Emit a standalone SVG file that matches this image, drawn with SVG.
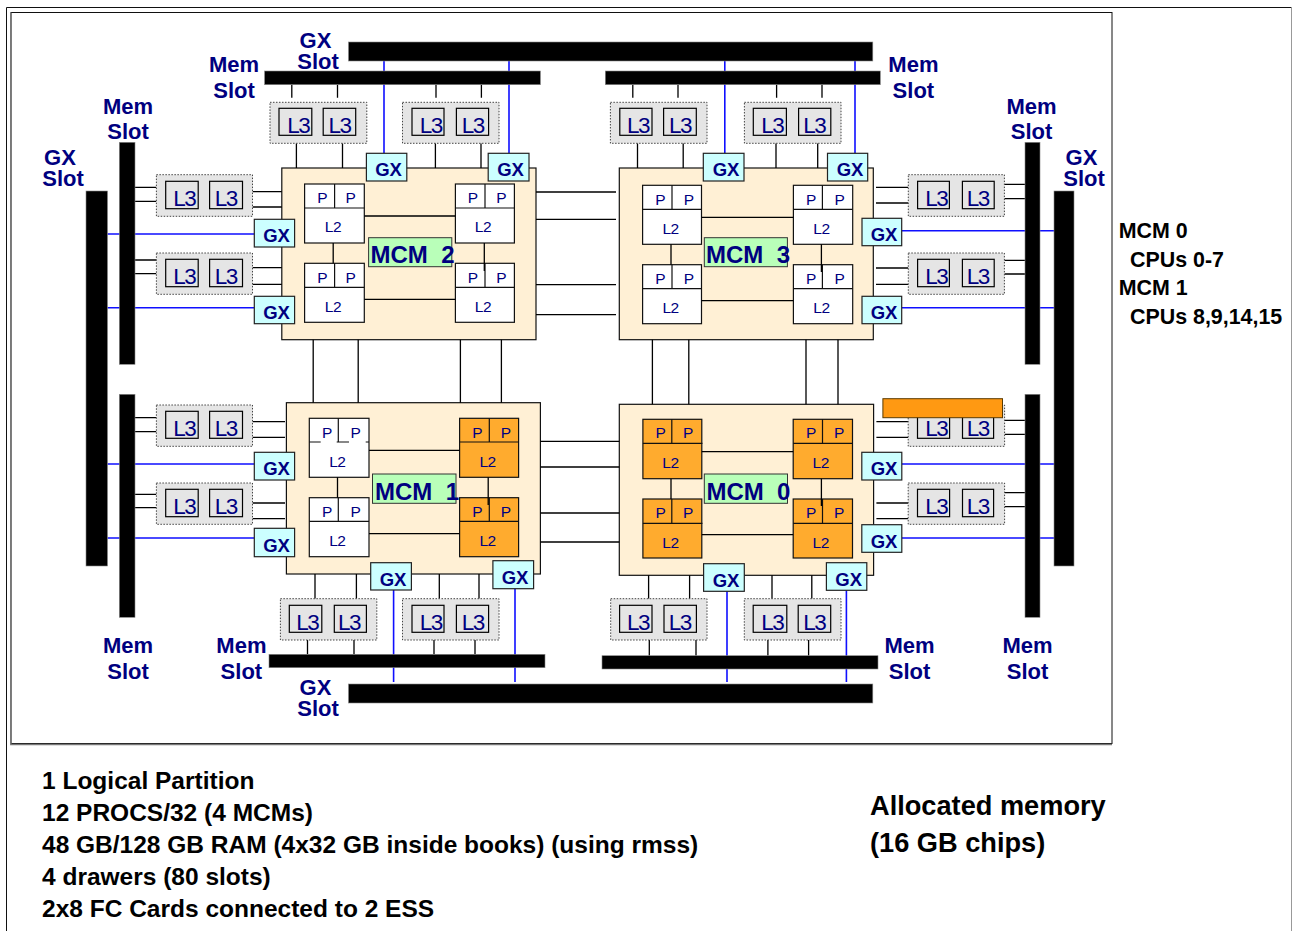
<svg xmlns="http://www.w3.org/2000/svg" width="1292" height="931" viewBox="0 0 1292 931">
<style>
text{font-family:"Liberation Sans",Arial,sans-serif}
.frame{fill:none;stroke:#111;stroke-width:1}
.bar{fill:#000;stroke:#888;stroke-width:.6}
.mcm{fill:#fff0d5;stroke:#111;stroke-width:1.2}
.tag{fill:#b9ffb9;stroke:#333;stroke-width:1}
.tagt{font-size:24px;font-weight:bold;fill:#000080;white-space:pre}
.chip{fill:#fff;stroke:#111;stroke-width:1.2}
.on{fill:#ffab2e}
.div{stroke:#111;stroke-width:1.2;fill:none}
.p{font-size:15.5px;fill:#000080;text-anchor:middle}
.l2{font-size:15.5px;fill:#000080;text-anchor:middle;letter-spacing:-.5px}
.grp{fill:#e5e5e5;stroke:#444;stroke-width:1;stroke-dasharray:1.5 1.5}
.l3{fill:#e5e5e5;stroke:#000;stroke-width:1.2}
.l3t{font-size:22.5px;fill:#000080;letter-spacing:-1.5px;transform:translateX(-.8px)}
.gx{fill:#ccffff;stroke:#222;stroke-width:1.2}
.gxt{font-size:18.5px;font-weight:bold;fill:#000080;text-anchor:middle;transform:translateY(.6px)}
.lab{font-size:22px;font-weight:bold;fill:#000080;text-anchor:middle}
.side{font-size:21.4px;font-weight:bold;fill:#000}
.note{font-size:24.5px;font-weight:bold;fill:#000}
.alloc{font-size:27.2px;font-weight:bold;fill:#000}
.k{stroke:#000;stroke-width:1.3;fill:none}
.b{stroke:#0f0fff;stroke-width:1.6;fill:none}
</style>

<g id="page-frame">
<path d="M6.5 931V7.5H1291.5" fill="none" stroke="#111" stroke-width="1"/>
<path d="M1291.5 7.5V931" fill="none" stroke="#999" stroke-width="1"/>
<rect class="frame" x="11" y="12.5" width="1101" height="731"/>
<path d="M10.8 12.5V744.5H1112" fill="none" stroke="#777" stroke-width="1.4"/>
</g>

<g id="mcm2">
<rect class="mcm" x="281.8" y="168" width="254.2" height="171.7"/>
<g transform="translate(304.6 184)"><rect class="chip" width="59.7" height="59"/><path class="div" d="M0 24H59.7M30 0V24"/><text class="p" x="17.8" y="19.3">P</text><text class="p" x="46.2" y="19.3">P</text><text class="l2" x="28.3" y="48.3">L2</text></g>
<g transform="translate(455.4 184)"><rect class="chip" width="59" height="59"/><path class="div" d="M0 24H59M29.6 0V24"/><text class="p" x="17.6" y="19.3">P</text><text class="p" x="46" y="19.3">P</text><text class="l2" x="27.6" y="48.3">L2</text></g>
<g transform="translate(304.6 263.3)"><rect class="chip" width="59.7" height="59"/><path class="div" d="M0 24H59.7M30 0V24"/><text class="p" x="17.8" y="19.3">P</text><text class="p" x="46.2" y="19.3">P</text><text class="l2" x="28.3" y="48.3">L2</text></g>
<g transform="translate(455.4 263.3)"><rect class="chip" width="59" height="59"/><path class="div" d="M0 24H59M29.6 0V24"/><text class="p" x="17.6" y="19.3">P</text><text class="p" x="46" y="19.3">P</text><text class="l2" x="27.6" y="48.3">L2</text></g>
<rect class="tag" x="368.6" y="237.7" width="83.2" height="29"/>
<text class="tagt" x="370.5" y="263.3" xml:space="preserve">MCM  2</text>
</g>

<g id="mcm3">
<rect class="mcm" x="619.3" y="168" width="254" height="171.7"/>
<g transform="translate(642.6 185.3)"><rect class="chip" width="58.9" height="59"/><path class="div" d="M0 24H58.9M29.4 0V24"/><text class="p" x="17.8" y="19.3">P</text><text class="p" x="46.3" y="19.3">P</text><text class="l2" x="28" y="48.3">L2</text></g>
<g transform="translate(793.4 185.3)"><rect class="chip" width="59.3" height="59"/><path class="div" d="M0 24H59.3M29 0V24"/><text class="p" x="17.8" y="19.3">P</text><text class="p" x="46.3" y="19.3">P</text><text class="l2" x="28" y="48.3">L2</text></g>
<g transform="translate(642.6 264.7)"><rect class="chip" width="58.9" height="59"/><path class="div" d="M0 24H58.9M29.4 0V24"/><text class="p" x="17.8" y="19.3">P</text><text class="p" x="46.3" y="19.3">P</text><text class="l2" x="28" y="48.3">L2</text></g>
<g transform="translate(793.4 264.7)"><rect class="chip" width="59.3" height="59"/><path class="div" d="M0 24H59.3M29 0V24"/><text class="p" x="17.8" y="19.3">P</text><text class="p" x="46.3" y="19.3">P</text><text class="l2" x="28" y="48.3">L2</text></g>
<rect class="tag" x="704.3" y="237.7" width="83.1" height="29"/>
<text class="tagt" x="706" y="263.3" xml:space="preserve">MCM  3</text>
</g>

<g id="mcm1">
<rect class="mcm" x="286.4" y="402.7" width="254" height="171.3"/>
<g transform="translate(309.3 418.3)"><rect class="chip" width="59.7" height="59"/><path class="div" d="M0 23.7H11.4M27.4 23.7H39.7M56.4 23.7H59.7M29 0V23.7"/><text class="p" x="17.8" y="19.3">P</text><text class="p" x="46.4" y="19.3">P</text><text class="l2" x="28" y="48.3">L2</text></g>
<g transform="translate(459.6 418.3)"><rect class="chip on" width="59" height="59"/><path class="div" d="M0 23.7H59M29.7 0V23.7"/><text class="p" x="17.8" y="19.3">P</text><text class="p" x="46.4" y="19.3">P</text><text class="l2" x="28" y="48.3">L2</text></g>
<g transform="translate(309.3 497.7)"><rect class="chip" width="59.7" height="59"/><path class="div" d="M0 23.7H59.7M29 0V23.7"/><text class="p" x="17.8" y="19.3">P</text><text class="p" x="46.4" y="19.3">P</text><text class="l2" x="28" y="48.3">L2</text></g>
<g transform="translate(459.6 497.7)"><rect class="chip on" width="59" height="59"/><path class="div" d="M0 23.7H59M29.7 0V23.7"/><text class="p" x="17.8" y="19.3">P</text><text class="p" x="46.4" y="19.3">P</text><text class="l2" x="28" y="48.3">L2</text></g>
<rect class="tag" x="372.5" y="474" width="83.5" height="29.3"/>
<text class="tagt" x="375" y="500" xml:space="preserve">MCM  1</text>
</g>

<g id="mcm0">
<rect class="mcm" x="619.3" y="404.3" width="254.3" height="171"/>
<g transform="translate(642.9 419.3)"><rect class="chip on" width="58.9" height="59.4"/><path class="div" d="M0 24H59.5M28.9 0V24"/><text class="p" x="17.8" y="18.7">P</text><text class="p" x="45.4" y="18.7">P</text><text class="l2" x="27.5" y="48.8">L2</text></g>
<g transform="translate(793.2 419.3)"><rect class="chip on" width="59.3" height="59.4"/><path class="div" d="M0 24H59.3M29.3 0V24"/><text class="p" x="18" y="18.7">P</text><text class="p" x="46" y="18.7">P</text><text class="l2" x="27.5" y="48.8">L2</text></g>
<g transform="translate(642.9 499)"><rect class="chip on" width="58.9" height="59"/><path class="div" d="M0 24.3H59.5M28.9 0V24.3"/><text class="p" x="17.8" y="18.7">P</text><text class="p" x="45.4" y="18.7">P</text><text class="l2" x="27.5" y="48.8">L2</text></g>
<g transform="translate(793.2 499)"><rect class="chip on" width="59.3" height="59"/><path class="div" d="M0 24.3H59.3M29.3 0V24.3"/><text class="p" x="18" y="18.7">P</text><text class="p" x="46" y="18.7">P</text><text class="l2" x="27.5" y="48.8">L2</text></g>
<rect class="tag" x="704.3" y="474" width="83.2" height="29.3"/>
<text class="tagt" x="706.4" y="500" xml:space="preserve">MCM  0</text>
</g>

<g id="connectors">
<path class="b" d="M384 61V153.3M509 61V153.3M724.8 61V153.3M855 61V153.3"/>
<path class="b" d="M107.5 234H254.3M107.5 307.7H254.3M107.5 464H254.3M107.5 538H254.3"/>
<path class="b" d="M901.7 230.7H1054M901.7 307.7H1054M901.8 464H1054M901.8 538H1054"/>
<path class="b" d="M393.6 590V682M515 588.7V682M727 591.3V682M846.4 590.3V682"/>
<path class="k" d="M291.8 84.7V97.7M337.5 84.7V97.7M436 84.7V97.7M481.4 84.7V97.7M632.8 84.7V97.7M678 84.7V97.7M776.6 84.7V97.7M822 84.7V97.7"/>
<path class="k" d="M296.4 143.3V168M342.5 143.3V168M435.4 143.3V168M481 143.3V168M637.5 143.3V168M683.2 143.3V168M776 143.3V168M817.7 143.3V168"/>
<path class="k" d="M135 187.3H156.4M135 201.3H156.4M135 260H156.4M135 273.7H156.4M135 417.7H156.4M135 431.7H156.4M135 494.3H156.4M135 507.7H156.4"/>
<path class="k" d="M252.5 191.7H281.8M252.5 207H281.8M252.5 267.7H281.8M252.5 284.3H281.8M252.5 421.7H285M252.5 437.3H285M252.5 503H285M252.5 518.7H285"/>
<path class="k" d="M876 187.3H908.3M876 203H908.3M876 268H908.3M876 284.3H908.3M876.4 421.7H908.2M876.4 437.3H908.2M876.4 503H908.2M876.4 518.7H908.2"/>
<path class="k" d="M1004.4 184.3H1025M1004.4 198.7H1025M1004.4 260.3H1025M1004.4 274H1025M1004.6 420.3H1025M1004.6 434.3H1025M1004.6 492.7H1025M1004.6 506.7H1025"/>
<path class="k" d="M315 574V598.7M356.4 574V598.7M439.3 574V598.7M479 574V598.7M648.6 575.3V598.7M689.6 575.3V598.7M772 575.3V598.7M811.8 575.3V598.7"/>
<path class="k" d="M307.5 640V654.3M354 640V654.3M434 640V654.3M475 640V654.3M649.3 640V655.7M696 640V655.7M767.9 640V655.7M808.6 640V655.7"/>
<path class="k" d="M536 192H616M536 219.3H616M536 284.7H616M536 314.7H616M540.4 441.3H619.3M540.4 467H619.3M540.4 513H619.3M540.4 542H619.3"/>
<path class="k" d="M313.2 339.7V402.7M358.2 339.7V402.7M460.4 339.7V402.7M501.4 339.7V402.7M652.4 339.7V404.3M688.8 339.7V404.3M806 339.7V404.3M838 339.7V404.3"/>
<path class="k" d="M364.3 216H455.4M364.3 299.3H455.4M333.2 243V263.3M484.3 243V271"/>
<path class="k" d="M701.5 217.3H793.4M701.5 300.7H793.4M671 244.3V264.7M821.4 244.3V272"/>
<path class="k" d="M369 450.3H459.6M369 533.7H459.6M337.5 477.3V497.7M488.2 477.3V505"/>
<path class="k" d="M701.8 451.7H793.2M701.8 534.7H793.2M671 478.7V499M821.4 478.7V506"/>
</g>

<g id="bar-gx-top"><rect class="bar" x="348.5" y="42" width="524.3" height="19"/></g>
<g id="bar-mem-top-left"><rect class="bar" x="264.6" y="71" width="275.8" height="13.7"/></g>
<g id="bar-mem-top-right"><rect class="bar" x="605.3" y="71" width="275" height="13.7"/></g>
<g id="bar-gx-left"><rect class="bar" x="86" y="191" width="21.5" height="375"/></g>
<g id="bar-mem-left-upper"><rect class="bar" x="119.3" y="142.3" width="15.7" height="222"/></g>
<g id="bar-mem-left-lower"><rect class="bar" x="119.3" y="394.3" width="15.7" height="223"/></g>
<g id="bar-mem-right-upper"><rect class="bar" x="1025" y="142.3" width="15" height="222"/></g>
<g id="bar-mem-right-lower"><rect class="bar" x="1025" y="394.3" width="15" height="223"/></g>
<g id="bar-gx-right"><rect class="bar" x="1054" y="191" width="20" height="375"/></g>
<g id="bar-mem-bottom-left"><rect class="bar" x="269" y="654.3" width="276" height="13.4"/></g>
<g id="bar-mem-bottom-right"><rect class="bar" x="602" y="655.7" width="276" height="13.3"/></g>
<g id="bar-gx-bottom"><rect class="bar" x="348.5" y="684" width="524.3" height="19"/></g>

<g id="l3-top-1"><rect class="grp" x="270" y="102.3" width="96.8" height="41"/><rect class="l3" x="279" y="108.3" width="32.8" height="27"/><rect class="l3" x="323.2" y="108.3" width="32.5" height="27"/><text class="l3t" x="288" y="133.3">L3</text><text class="l3t" x="329.3" y="133.3">L3</text></g>
<g id="l3-top-2"><rect class="grp" x="402.5" y="102.3" width="96.5" height="41"/><rect class="l3" x="412" y="108.3" width="32" height="27"/><rect class="l3" x="456.4" y="108.3" width="32.2" height="27"/><text class="l3t" x="420.5" y="133.3">L3</text><text class="l3t" x="462.5" y="133.3">L3</text></g>
<g id="l3-top-3"><rect class="grp" x="610.4" y="102.3" width="96.6" height="41"/><rect class="l3" x="619.8" y="108.3" width="32.2" height="27"/><rect class="l3" x="663.6" y="108.3" width="32.7" height="27"/><text class="l3t" x="627.7" y="133.3">L3</text><text class="l3t" x="669.7" y="133.3">L3</text></g>
<g id="l3-top-4"><rect class="grp" x="744.4" y="102.3" width="96.6" height="41"/><rect class="l3" x="753.3" y="108.3" width="33.1" height="27"/><rect class="l3" x="798.6" y="108.3" width="32.2" height="27"/><text class="l3t" x="762" y="133.3">L3</text><text class="l3t" x="804" y="133.3">L3</text></g>

<g id="l3-left-1"><rect class="grp" x="156.4" y="174.7" width="96.1" height="41.6"/><rect class="l3" x="165.7" y="181.3" width="32.5" height="27.4"/><rect class="l3" x="209.6" y="181.3" width="32.9" height="27.4"/><text class="l3t" x="174" y="206">L3</text><text class="l3t" x="215.5" y="206">L3</text></g>
<g id="l3-left-2"><rect class="grp" x="156.4" y="253" width="96.1" height="41.3"/><rect class="l3" x="165.7" y="259.3" width="32.5" height="27.4"/><rect class="l3" x="209.6" y="259.3" width="32.9" height="27.4"/><text class="l3t" x="174" y="284">L3</text><text class="l3t" x="215.5" y="284">L3</text></g>
<g id="l3-left-3"><rect class="grp" x="156.4" y="405" width="96.1" height="41.3"/><rect class="l3" x="165.7" y="411.3" width="32.5" height="27"/><rect class="l3" x="209.6" y="411.3" width="32.9" height="27"/><text class="l3t" x="174" y="436">L3</text><text class="l3t" x="215.5" y="436">L3</text></g>
<g id="l3-left-4"><rect class="grp" x="156.4" y="483" width="96.1" height="41.3"/><rect class="l3" x="165.7" y="489.3" width="32.5" height="27.4"/><rect class="l3" x="209.6" y="489.3" width="32.9" height="27.4"/><text class="l3t" x="174" y="514">L3</text><text class="l3t" x="215.5" y="514">L3</text></g>

<g id="l3-right-1"><rect class="grp" x="908.3" y="174.7" width="96.1" height="41.6"/><rect class="l3" x="917.6" y="181.3" width="31.8" height="27.4"/><rect class="l3" x="962.4" y="181.3" width="31.8" height="27.4"/><text class="l3t" x="926" y="206">L3</text><text class="l3t" x="967.5" y="206">L3</text></g>
<g id="l3-right-2"><rect class="grp" x="908.3" y="253" width="96.1" height="41.3"/><rect class="l3" x="917.6" y="259.3" width="31.8" height="27.4"/><rect class="l3" x="962.4" y="259.3" width="31.8" height="27.4"/><text class="l3t" x="926" y="284">L3</text><text class="l3t" x="967.5" y="284">L3</text></g>
<g id="l3-right-3"><rect class="grp" x="908.2" y="405" width="96.4" height="41.3"/><rect class="l3" x="917.5" y="411.3" width="32.1" height="27"/><rect class="l3" x="962.5" y="411.3" width="31.1" height="27"/><text class="l3t" x="926" y="436">L3</text><text class="l3t" x="967.5" y="436">L3</text></g>
<g id="l3-right-4"><rect class="grp" x="908.2" y="483" width="96.4" height="41.3"/><rect class="l3" x="917.5" y="489.3" width="32.1" height="27.4"/><rect class="l3" x="962.5" y="489.3" width="31.1" height="27.4"/><text class="l3t" x="926" y="514">L3</text><text class="l3t" x="967.5" y="514">L3</text></g>

<g id="l3-bottom-1"><rect class="grp" x="280.4" y="598.7" width="96.4" height="41.3"/><rect class="l3" x="289.3" y="605.3" width="32.5" height="27"/><rect class="l3" x="334.3" y="605.3" width="32.1" height="27"/><text class="l3t" x="297" y="630.3">L3</text><text class="l3t" x="338.7" y="630.3">L3</text></g>
<g id="l3-bottom-2"><rect class="grp" x="402.5" y="598.7" width="96.5" height="41.3"/><rect class="l3" x="412" y="605.3" width="32" height="27"/><rect class="l3" x="456.4" y="605.3" width="32.2" height="27"/><text class="l3t" x="420.5" y="630.3">L3</text><text class="l3t" x="462.5" y="630.3">L3</text></g>
<g id="l3-bottom-3"><rect class="grp" x="610.7" y="598.7" width="96.3" height="41.3"/><rect class="l3" x="619.6" y="605.3" width="32.4" height="27"/><rect class="l3" x="664" y="605.3" width="32.4" height="27"/><text class="l3t" x="627.7" y="630.3">L3</text><text class="l3t" x="669.5" y="630.3">L3</text></g>
<g id="l3-bottom-4"><rect class="grp" x="744.3" y="598.7" width="96.7" height="41.3"/><rect class="l3" x="753.2" y="605.3" width="33.6" height="27"/><rect class="l3" x="798.2" y="605.3" width="32.5" height="27"/><text class="l3t" x="762" y="630.3">L3</text><text class="l3t" x="804" y="630.3">L3</text></g>

<g id="orange-block"><rect x="882.9" y="398.7" width="119.6" height="19" fill="#ff9912" stroke="#5a3a00" stroke-width="1"/></g>

<g id="gx-2a"><rect class="gx" x="366.4" y="153.3" width="40.4" height="27.7"/><text class="gxt" x="388.5" y="175.7">GX</text></g>
<g id="gx-2b"><rect class="gx" x="488.2" y="153.3" width="40.8" height="27.7"/><text class="gxt" x="510.5" y="175.7">GX</text></g>
<g id="gx-2c"><rect class="gx" x="254.3" y="219.3" width="40.3" height="27.7"/><text class="gxt" x="276.5" y="241.7">GX</text></g>
<g id="gx-2d"><rect class="gx" x="254.3" y="296.3" width="40.3" height="27.4"/><text class="gxt" x="276.5" y="318.4">GX</text></g>
<g id="gx-3a"><rect class="gx" x="703.3" y="153.3" width="40.7" height="27.7"/><text class="gxt" x="726" y="175.7">GX</text></g>
<g id="gx-3b"><rect class="gx" x="827.5" y="153.3" width="40.2" height="27.7"/><text class="gxt" x="850" y="175.7">GX</text></g>
<g id="gx-3c"><rect class="gx" x="862" y="218.3" width="39.7" height="27.4"/><text class="gxt" x="884" y="240.5">GX</text></g>
<g id="gx-3d"><rect class="gx" x="862" y="296.3" width="39.7" height="27.4"/><text class="gxt" x="884" y="318.4">GX</text></g>
<g id="gx-1a"><rect class="gx" x="254.3" y="452.3" width="40.3" height="27.7"/><text class="gxt" x="276.5" y="474.7">GX</text></g>
<g id="gx-1b"><rect class="gx" x="254.3" y="528.3" width="40.3" height="28.4"/><text class="gxt" x="276.5" y="551.3">GX</text></g>
<g id="gx-1c"><rect class="gx" x="370.7" y="562.7" width="40.7" height="27.3"/><text class="gxt" x="393" y="585">GX</text></g>
<g id="gx-1d"><rect class="gx" x="492.9" y="560.7" width="40.7" height="28"/><text class="gxt" x="515" y="583">GX</text></g>
<g id="gx-0a"><rect class="gx" x="861.8" y="452.3" width="40" height="27.7"/><text class="gxt" x="884" y="474.7">GX</text></g>
<g id="gx-0b"><rect class="gx" x="861.8" y="524.7" width="40" height="27.6"/><text class="gxt" x="884" y="547">GX</text></g>
<g id="gx-0c"><rect class="gx" x="703.6" y="563.7" width="40.7" height="27.6"/><text class="gxt" x="726" y="586">GX</text></g>
<g id="gx-0d"><rect class="gx" x="826.4" y="562.7" width="40.4" height="27.6"/><text class="gxt" x="848.7" y="585">GX</text></g>

<g id="labels">
<text class="lab" x="234" y="71.7">Mem</text><text class="lab" x="234" y="97.7">Slot</text>
<text class="lab" x="315.5" y="48.2">GX</text><text class="lab" x="318" y="69">Slot</text>
<text class="lab" x="128" y="114">Mem</text><text class="lab" x="128" y="139">Slot</text>
<text class="lab" x="60" y="165.2">GX</text><text class="lab" x="63" y="186">Slot</text>
<text class="lab" x="913.4" y="71.7">Mem</text><text class="lab" x="913.4" y="97.7">Slot</text>
<text class="lab" x="1031.5" y="114">Mem</text><text class="lab" x="1031.5" y="139">Slot</text>
<text class="lab" x="1081.5" y="165.2">GX</text><text class="lab" x="1084" y="186">Slot</text>
<text class="lab" x="128" y="653.3">Mem</text><text class="lab" x="128" y="679">Slot</text>
<text class="lab" x="241.4" y="653.3">Mem</text><text class="lab" x="241.4" y="679">Slot</text>
<text class="lab" x="315.5" y="695.2">GX</text><text class="lab" x="318" y="716">Slot</text>
<text class="lab" x="909.6" y="653.3">Mem</text><text class="lab" x="909.6" y="679">Slot</text>
<text class="lab" x="1027.5" y="653.3">Mem</text><text class="lab" x="1027.5" y="679">Slot</text>
</g>

<g id="cpu-notes">
<text class="side" x="1118.8" y="237.6">MCM 0</text>
<text class="side" x="1130" y="266.8">CPUs 0-7</text>
<text class="side" x="1118.8" y="294.7">MCM 1</text>
<text class="side" x="1130" y="323.6">CPUs 8,9,14,15</text>
</g>

<g id="summary">
<text class="note" x="42" y="789.3">1 Logical Partition</text>
<text class="note" x="42" y="821">12 PROCS/32 (4 MCMs)</text>
<text class="note" x="42" y="852.8">48 GB/128 GB RAM (4x32 GB inside books) (using rmss)</text>
<text class="note" x="42" y="885.3">4 drawers (80 slots)</text>
<text class="note" x="42" y="917.4">2x8 FC Cards connected to 2 ESS</text>
<text class="alloc" x="870" y="815">Allocated memory</text>
<text class="alloc" x="870" y="852">(16 GB chips)</text>
</g>
</svg>
